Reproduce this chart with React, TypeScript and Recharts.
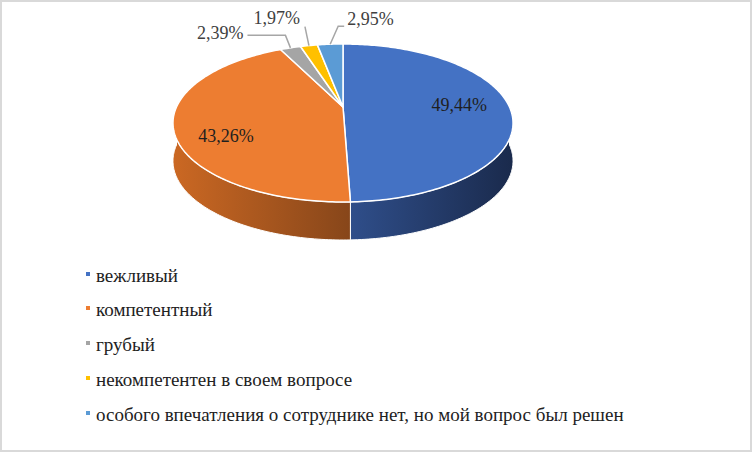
import React from 'react';
import { PieChart, Pie, Legend } from 'recharts';

const CATEGORIES = [
  'вежливый',
  'компетентный',
  'грубый',
  'некомпетентен в своем вопросе',
  'особого впечатления о сотруднике нет, но мой вопрос был решен',
];
const VALUES = [49.44, 43.26, 2.39, 1.97, 2.95];
const COLORS = ['#4472C4', '#ED7D31', '#A5A5A5', '#FFC000', '#5B9BD5'];
const WALL_LIGHT = ['#2F4E8A', '#CB6823', '#8C8C8C', '#D9A300', '#4A82B8'];
const WALL_DARK = ['#1A2A4C', '#87461A', '#5E5E5E', '#8F6B00', '#2E5478'];
const LABEL_MODES = ['inside', 'inside', 'left', 'up', 'right'];

const data = CATEGORIES.map((name, i) => ({ name, value: VALUES[i], fill: COLORS[i] }));

const K = 0.2025;
const TILT = 0.455;
const DEPTH = 38;
const FONT = "'Liberation Serif'";

function proj(cx: number, cy: number, r: number, deg: number, fx = 1, fy = fx): [number, number] {
  const t = (deg * Math.PI) / 180;
  const u = fx * Math.cos(t);
  const v = fy * Math.sin(t);
  const w = 1 + K * fx * Math.sin(t);
  return [cx + (r * u) / w, cy - (r * TILT * v) / w];
}

function arcPoints(cx: number, cy: number, r: number, a: number, b: number): [number, number][] {
  const n = Math.max(2, Math.ceil(Math.abs(b - a)) + 1);
  const pts: [number, number][] = [];
  for (let i = 0; i < n; i++) {
    const ang = a + ((b - a) * i) / (n - 1);
    pts.push(proj(cx, cy, r, ang));
  }
  return pts;
}

const f2 = (n: number) => n.toFixed(2);

function TopShape(p: any) {
  const { cx, cy, outerRadius, startAngle, endAngle, fill } = p;
  const pts = arcPoints(cx, cy, outerRadius, startAngle, endAngle);
  const d =
    `M${f2(cx)},${f2(cy)} ` + pts.map(([x, y]) => `L${f2(x)},${f2(y)}`).join(' ') + ' Z';
  return <path d={d} fill={fill} stroke="#ffffff" strokeWidth={1.5} strokeLinejoin="round" />;
}

function WallShape(p: any) {
  const { cx, cy, outerRadius, startAngle, endAngle, fill } = p;
  const idx = Math.max(0, COLORS.indexOf(fill));
  const lo = Math.min(startAngle, endAngle);
  const hi = Math.max(startAngle, endAngle);
  const segs: [number, number][] = [];
  for (let k = -2; k <= 2; k++) {
    const a = Math.max(lo, -180 + 360 * k);
    const b = Math.min(hi, 360 * k);
    if (b > a) segs.push([a, b]);
  }
  if (!segs.length) return <g />;
  let minX = Infinity;
  let maxX = -Infinity;
  const d = segs
    .map(([a, b]) => {
      const top = arcPoints(cx, cy, outerRadius, b, a);
      const bot = arcPoints(cx, cy, outerRadius, a, b).map(([x, y]) => [x, y + DEPTH] as [number, number]);
      const all = [...top, ...bot];
      all.forEach(([x]) => {
        minX = Math.min(minX, x);
        maxX = Math.max(maxX, x);
      });
      return 'M' + all.map(([x, y]) => `${f2(x)},${f2(y)}`).join(' L') + ' Z';
    })
    .join(' ');
  const gid = `wallGrad${idx}`;
  return (
    <g>
      <defs>
        <linearGradient id={gid} gradientUnits="userSpaceOnUse" x1={minX} y1={0} x2={maxX} y2={0}>
          <stop offset="0%" stopColor={WALL_LIGHT[idx]} />
          <stop offset="100%" stopColor={WALL_DARK[idx]} />
        </linearGradient>
      </defs>
      <path d={d} fill={`url(#${gid})`} stroke="#ffffff" strokeWidth={1} />
    </g>
  );
}

const textStyle = { fontFamily: FONT, fontSize: 18 };

function renderLabel(p: any) {
  const { cx, cy, outerRadius, midAngle, index } = p;
  const mode = LABEL_MODES[index];
  const text = VALUES[index].toFixed(2).replace('.', ',') + '%';
  if (mode === 'inside') {
    const [x, y] = proj(cx, cy, outerRadius, midAngle, 0.7, 1.5);
    return (
      <text x={x} y={y} dy="0.35em" textAnchor="middle" style={textStyle} fill="#1f1f1f">
        {text}
      </text>
    );
  }
  const [px, py] = proj(cx, cy, outerRadius, midAngle);
  if (mode === 'left') {
    const ex = px - 5;
    const ey = py - 12.5;
    const lx = ex - 38;
    return (
      <g>
        <polyline points={`${px},${py} ${ex},${ey} ${lx},${ey}`} fill="none" stroke="#A6A6A6" strokeWidth={1.5} />
        <text x={lx - 4} y={ey + 3.5} textAnchor="end" style={textStyle} fill="#404040">
          {text}
        </text>
      </g>
    );
  }
  if (mode === 'up') {
    const ex = px - 4;
    const ey = py - 19;
    return (
      <g>
        <polyline points={`${px},${py} ${ex},${ey}`} fill="none" stroke="#A6A6A6" strokeWidth={1.5} />
        <text x={ex - 5} y={ey - 2.5} textAnchor="end" style={textStyle} fill="#404040">
          {text}
        </text>
      </g>
    );
  }
  const ex = px + 8;
  const ey = py - 18;
  const lx = ex + 6;
  return (
    <g>
      <polyline points={`${px},${py} ${ex},${ey} ${lx},${ey}`} fill="none" stroke="#A6A6A6" strokeWidth={1.5} />
      <text x={lx + 3} y={ey - 1} textAnchor="start" style={textStyle} fill="#404040">
        {text}
      </text>
    </g>
  );
}

function renderLegend() {
  return (
    <div style={{ fontSize: 19, color: '#222222', fontFamily: FONT }}>
      {CATEGORIES.map((c, i) => (
        <div
          key={c}
          style={{ height: 34.8, display: 'flex', alignItems: 'center', whiteSpace: 'nowrap', fontFamily: FONT }}
        >
          <span
            style={{
              width: 4,
              height: 4,
              background: COLORS[i],
              display: 'inline-block',
              marginRight: 6,
              position: 'relative',
              top: -2,
            }}
          />
          <span style={{ fontFamily: FONT }}>{c}</span>
        </div>
      ))}
    </div>
  );
}

export default function App() {
  return (
    <div
      style={{
        position: 'absolute',
        left: 0,
        top: 0,
        width: 752,
        height: 452,
        background: '#ffffff',
        fontFamily: FONT,
      }}
    >
      <PieChart width={752} height={452} margin={{ top: 0, right: 0, bottom: 0, left: 0 }} style={{ fontFamily: FONT }}>
        <Pie
          data={data}
          dataKey="value"
          nameKey="name"
          cx={343}
          cy={107}
          outerRadius={166.5}
          startAngle={90}
          endAngle={-270}
          stroke="none"
          isAnimationActive={false}
          shape={WallShape}
          activeShape={WallShape}
          inactiveShape={WallShape}
          legendType="none"
        />
        <Pie
          data={data}
          dataKey="value"
          nameKey="name"
          cx={343}
          cy={107}
          outerRadius={166.5}
          startAngle={90}
          endAngle={-270}
          stroke="none"
          isAnimationActive={false}
          shape={TopShape}
          activeShape={TopShape}
          inactiveShape={TopShape}
          label={renderLabel}
          labelLine={false}
        />
        <Legend
          layout="vertical"
          align="center"
          verticalAlign="middle"
          content={renderLegend}
          wrapperStyle={{ position: 'absolute', left: 86, top: 258.2, width: 640, height: 180 }}
        />
      </PieChart>
      <div
        style={{
          position: 'absolute',
          left: 0,
          top: 0,
          width: 752,
          height: 452,
          boxSizing: 'border-box',
          border: '2px solid #D9D9D9',
          pointerEvents: 'none',
        }}
      />
    </div>
  );
}
